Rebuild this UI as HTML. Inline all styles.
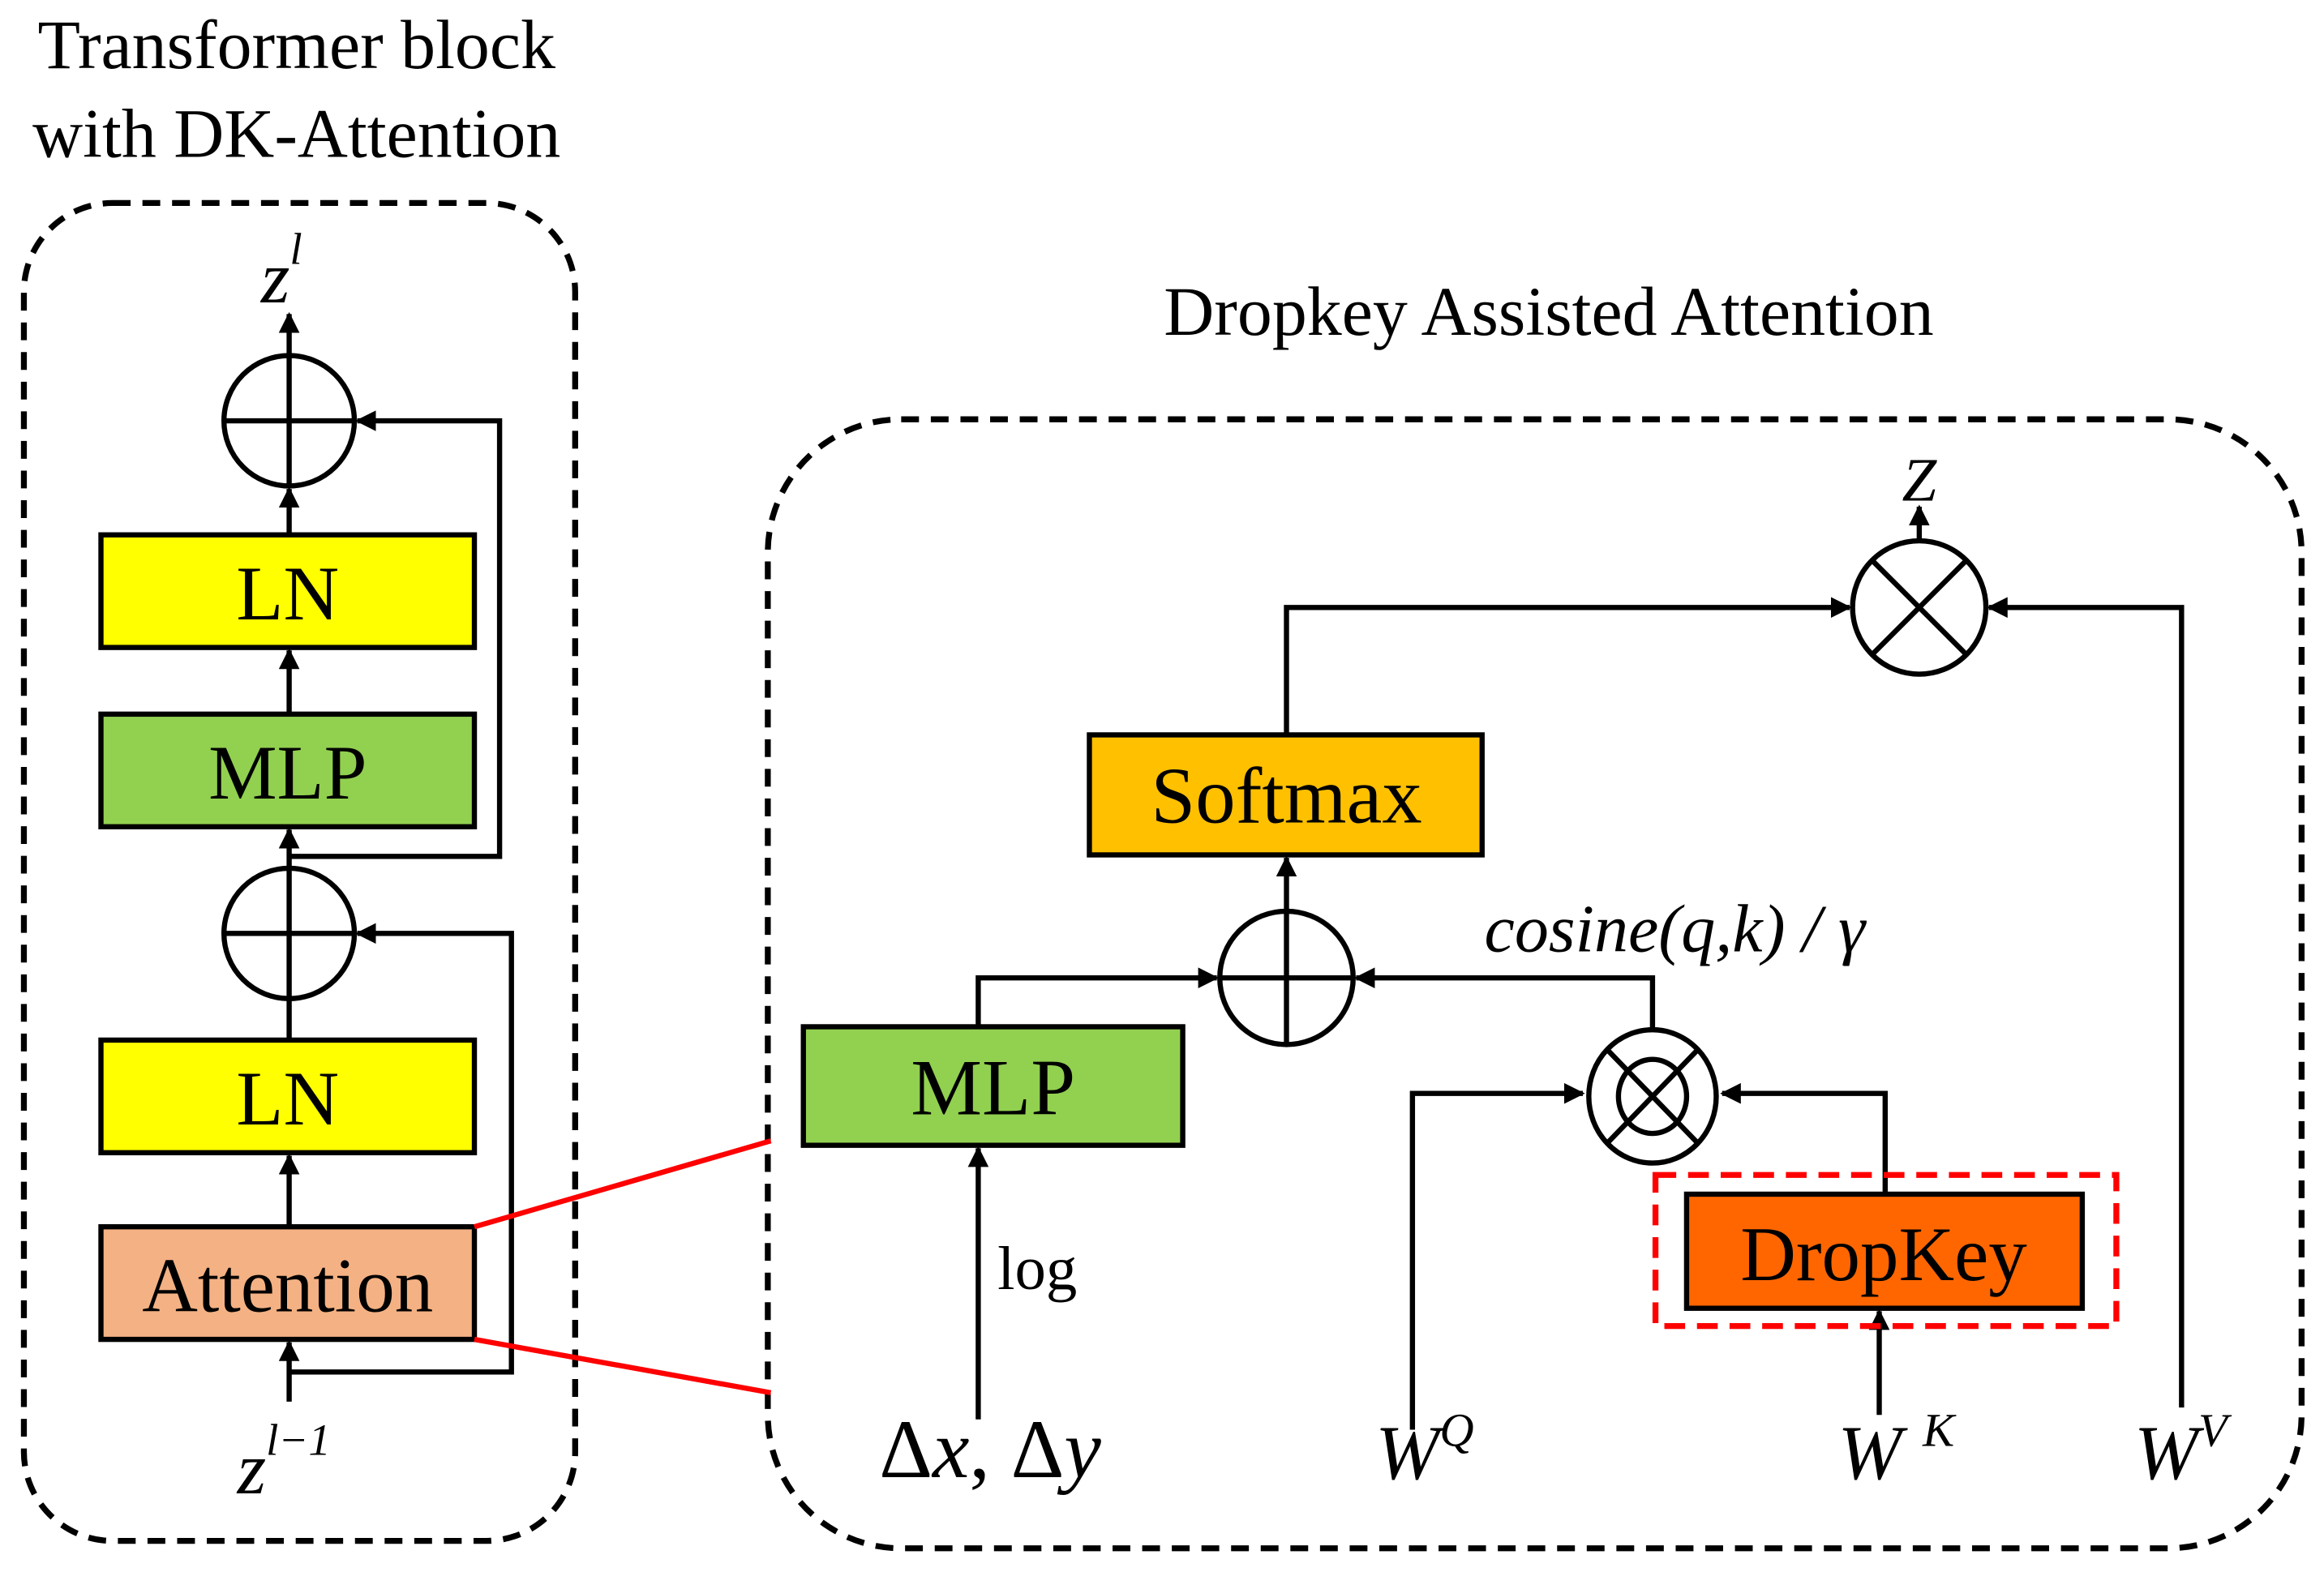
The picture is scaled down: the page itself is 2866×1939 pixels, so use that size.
<!DOCTYPE html>
<html><head><meta charset="utf-8"><style>html,body{margin:0;padding:0;background:#fff}svg{display:block}</style></head>
<body>
<svg width="2866" height="1939" viewBox="0 0 1568 1061" xmlns="http://www.w3.org/2000/svg" font-family="Liberation Serif, serif">
<defs>
<marker id="a" viewBox="0 0 10 10" refX="9" refY="5" markerWidth="4" markerHeight="4" orient="auto-start-reverse"><path d="M0,0 L10,5 L0,10 z" fill="#000"/></marker>
</defs>
<rect width="1568" height="1061" fill="#fff"/>
<text x="200" y="46" font-size="47" text-anchor="middle">Transformer block</text>
<text x="200" y="106" font-size="47" text-anchor="middle">with DK-Attention</text>
<rect x="16" y="137" width="372" height="903" rx="60" fill="none" stroke="#000" stroke-width="4" stroke-dasharray="12,8"/>
<text x="1045" y="226" font-size="47" text-anchor="middle">Dropkey Assisted Attention</text>
<rect x="518" y="283" width="1035" height="762" rx="90" fill="none" stroke="#000" stroke-width="4" stroke-dasharray="12,8"/>
<g stroke="#000" stroke-width="3.5" fill="none">
<line x1="195" y1="240" x2="195" y2="212" marker-end="url(#a)"/>
<circle cx="195" cy="284" r="44"/><line x1="151" y1="284" x2="239" y2="284"/><line x1="195" y1="240" x2="195" y2="328"/>
<line x1="195" y1="361" x2="195" y2="330" marker-end="url(#a)"/>
<line x1="195" y1="482" x2="195" y2="439" marker-end="url(#a)"/>
<line x1="195" y1="586" x2="195" y2="560" marker-end="url(#a)"/>
<circle cx="195" cy="630" r="44"/><line x1="151" y1="630" x2="239" y2="630"/><line x1="195" y1="586" x2="195" y2="674"/>
<line x1="195" y1="674" x2="195" y2="702"/>
<line x1="195" y1="828" x2="195" y2="780" marker-end="url(#a)"/>
<line x1="195" y1="946" x2="195" y2="906" marker-end="url(#a)"/>
<polyline points="195,578 337,578 337,284 241,284" marker-end="url(#a)"/>
<polyline points="195,926 345,926 345,630 241,630" marker-end="url(#a)"/>
</g>
<rect x="68" y="361" width="252" height="76" fill="#ffff00" stroke="#000" stroke-width="3.5"/>
<text x="194" y="418" font-size="52" text-anchor="middle">LN</text>
<rect x="68" y="482" width="252" height="76" fill="#92d050" stroke="#000" stroke-width="3.5"/>
<text x="194" y="539" font-size="52" text-anchor="middle">MLP</text>
<rect x="68" y="702" width="252" height="76" fill="#ffff00" stroke="#000" stroke-width="3.5"/>
<text x="194" y="759" font-size="52" text-anchor="middle">LN</text>
<rect x="68" y="828" width="252" height="76" fill="#f4b183" stroke="#000" stroke-width="3.5"/>
<text x="194" y="885" font-size="52" text-anchor="middle">Attention</text>
<text x="176" y="204" font-size="50" font-style="italic">z<tspan font-size="30" dy="-26">l</tspan></text>
<text x="160" y="1008" font-size="50" font-style="italic">z<tspan font-size="30" dy="-26">l−1</tspan></text>
<line x1="320" y1="828" x2="520" y2="770" stroke="#f00" stroke-width="3.5"/>
<line x1="320" y1="904" x2="520" y2="940" stroke="#f00" stroke-width="3.5"/>
<g stroke="#000" stroke-width="3.5" fill="none">
<line x1="1295" y1="365" x2="1295" y2="342" marker-end="url(#a)"/>
<circle cx="1295" cy="410" r="45"/><line x1="1263" y1="378" x2="1327" y2="442"/><line x1="1327" y1="378" x2="1263" y2="442"/>
<polyline points="868,496 868,410 1248,410" marker-end="url(#a)"/>
<polyline points="1472,950 1472,410 1342,410" marker-end="url(#a)"/>
<line x1="868" y1="615" x2="868" y2="579" marker-end="url(#a)"/>
<circle cx="868" cy="660" r="45"/><line x1="823" y1="660" x2="913" y2="660"/><line x1="868" y1="615" x2="868" y2="705"/>
<polyline points="660,693 660,660 821,660" marker-end="url(#a)"/>
<line x1="660" y1="958" x2="660" y2="775" marker-end="url(#a)"/>
<ellipse cx="1115" cy="740" rx="43" ry="45"/><ellipse cx="1115" cy="740" rx="23" ry="25"/>
<line x1="1084" y1="708" x2="1146" y2="772"/><line x1="1146" y1="708" x2="1084" y2="772"/>
<polyline points="1115,695 1115,660 915,660" marker-end="url(#a)"/>
<polyline points="953,965 953,738 1068,738" marker-end="url(#a)"/>
<polyline points="1272,806 1272,738 1162,738" marker-end="url(#a)"/>
<line x1="1268" y1="955" x2="1268" y2="885" marker-end="url(#a)"/>
</g>
<rect x="735" y="496" width="265" height="81" fill="#ffc000" stroke="#000" stroke-width="3.5"/>
<text x="868" y="555" font-size="54" text-anchor="middle">Softmax</text>
<rect x="542" y="693" width="256" height="80" fill="#92d050" stroke="#000" stroke-width="3.5"/>
<text x="670" y="752" font-size="54" text-anchor="middle">MLP</text>
<rect x="1117" y="793" width="311" height="102" fill="none" stroke="#f00" stroke-width="4" stroke-dasharray="14,8"/>
<rect x="1138" y="806" width="267" height="77" fill="#ff6600" stroke="#000" stroke-width="3.5"/>
<text x="1271" y="864" font-size="52" text-anchor="middle">DropKey</text>
<text x="1295" y="338" font-size="42" font-style="italic" text-anchor="middle">Z</text>
<text x="1130" y="642" font-size="46" font-style="italic" text-anchor="middle">cosine(q,k) / γ</text>
<text x="673" y="870" font-size="42">log</text>
<text x="668" y="997" font-size="56" text-anchor="middle">Δ<tspan font-style="italic">x</tspan>, Δ<tspan font-style="italic">y</tspan></text>
<text x="928" y="998" font-size="52" font-style="italic">W<tspan font-size="32" dy="-22">Q</tspan></text>
<text x="1240" y="998" font-size="52" font-style="italic">W<tspan font-size="32" dy="-22" dx="14">K</tspan></text>
<text x="1440" y="998" font-size="52" font-style="italic">W<tspan font-size="32" dy="-22">V</tspan></text>
</svg>
</body></html>
